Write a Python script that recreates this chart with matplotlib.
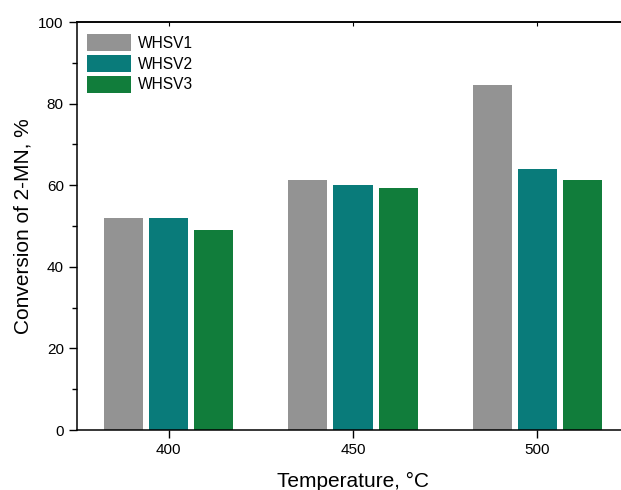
import matplotlib
matplotlib.use("Agg")
import matplotlib.pyplot as plt
import numpy as np
from matplotlib.ticker import MultipleLocator

plt.rcParams['font.family'] = ['Liberation Sans', 'DejaVu Sans']

temperatures = [400, 450, 500]
series_names = ["WHSV1", "WHSV2", "WHSV3"]
whsv1 = [52.0, 61.3, 84.6]
whsv2 = [52.0, 60.0, 64.0]
whsv3 = [49.0, 59.3, 61.3]
colors = ["#939393", "#097b7a", "#117d3b"]

fig = plt.figure(figsize=(6.21, 4.90), dpi=100)
ax = fig.add_axes([0.124, 0.1224, 0.890, 0.8327])

x = np.array(temperatures, dtype=float)
offset = 12.3
width = 10.6
for i, (vals, name, c) in enumerate(zip([whsv1, whsv2, whsv3], series_names, colors)):
    ax.bar(x + (i - 1) * offset, vals, width=width, color=c, label=name, zorder=2)

ax.set_xlim(375.2, 525)
ax.set_ylim(0, 100)
ax.set_xticks(temperatures)
ax.yaxis.set_major_locator(MultipleLocator(20))
ax.yaxis.set_minor_locator(MultipleLocator(10))
ax.tick_params(axis='both', which='major', labelsize=11, direction='out', length=6, width=1)
ax.tick_params(axis='y', which='minor', direction='out', length=3.5, width=1)
for spine in ax.spines.values():
    spine.set_linewidth(1.1)
ax.spines['right'].set_visible(False)

sec = ax.secondary_xaxis('top')
sec.set_xticks(temperatures)
sec.tick_params(axis='x', direction='in', length=3, width=0.8, labeltop=False)
sec.spines['top'].set_linewidth(1.1)

ax.set_xlabel("Temperature, °C", fontsize=15, labelpad=10.5)
ax.set_ylabel("Conversion of 2-MN, %", fontsize=15, labelpad=4)

leg = ax.legend(loc='upper left', bbox_to_anchor=(10 / 553, 1 - 12 / 408),
                frameon=False, fontsize=11.2, handlelength=2.85, handleheight=1.3,
                labelspacing=0.25, handletextpad=0.4, borderpad=0, borderaxespad=0)

fig.savefig("out.png", dpi=100)
